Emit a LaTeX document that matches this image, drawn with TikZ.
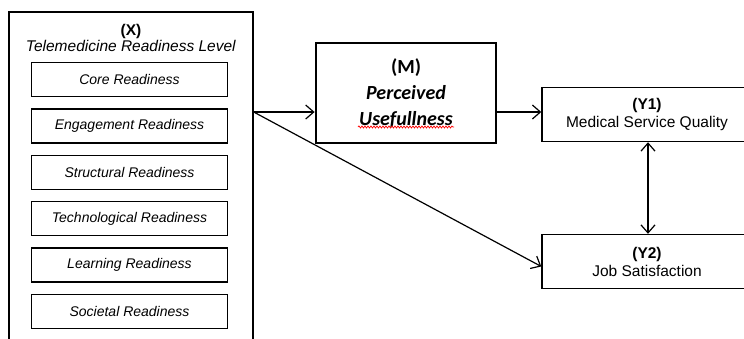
\documentclass[tikz,border=0pt]{standalone}
\usepackage{fontspec}
\setmainfont{Liberation Sans}
\newfontfamily\calib{Carlito}
\usetikzlibrary{arrows.meta,calc,decorations.pathmorphing}
\begin{document}
\begin{tikzpicture}[x=1pt,y=-1pt,
  outer/.style={draw,line width=1.4pt,rectangle,inner sep=0pt},
  subbox/.style={draw,line width=1.4pt,minimum width=196pt,minimum height=34pt,inner sep=0pt,font=\fontsize{14}{16}\selectfont\itshape},
  ybox/.style={draw,line width=1.4pt,minimum width=210pt,minimum height=54pt,inner sep=0pt,align=center,font=\fontsize{15.5}{18}\selectfont},
  mbox/.style={draw,line width=2.8pt,minimum width=180pt,minimum height=100pt,inner sep=0pt,align=center,font=\calib\fontsize{20}{26}\selectfont},
  arr/.style={line width=1.2pt,-{Straight Barb[length=8pt,width=14pt]}},
  darr/.style={line width=1.2pt,{Straight Barb[length=8pt,width=14pt]}-{Straight Barb[length=8pt,width=14pt]}},
  wavy/.style={red,line width=0.7pt,decorate,decoration={snake,amplitude=1pt,segment length=3pt}}]
\useasboundingbox (0,0) rectangle (744,338);
\clip (0,0) rectangle (744,338);
\fill[white] (0,0) rectangle (744,338);
% X block
\node[outer,minimum width=244pt,minimum height=336pt] (X) at (131,180) {};
\node[align=center,font=\fontsize{15.5}{16.5}\selectfont] (Xt) at (131,38) {\textbf{(X)}\\\textit{Telemedicine Readiness Level}};
\node[subbox] (s0) at (129.5,79.5) {Core Readiness};
\node[subbox] (s1) at (129.5,125.9) {Engagement Readiness};
\node[subbox] (s2) at (129.5,172.3) {Structural Readiness};
\node[subbox] (s3) at (129.5,218.7) {Technological Readiness};
\node[subbox] (s4) at (129.5,265.1) {Learning Readiness};
\node[subbox] (s5) at (129.5,311.5) {Societal Readiness};
% M block
\node[mbox] (M) at (406,93) {\textbf{(M)}\\\textbf{\textit{Perceived}}\\\textbf{\textit{Usefullness}}};
\draw[wavy] ($(M.center)+(-48,34)$) -- ($(M.center)+(48,34)$);
% Y blocks
\node[ybox] (Y1) at (647,114.5) {\textbf{(Y1)}\\Medical Service Quality};
\node[ybox] (Y2) at (647,261.5) {\textbf{(Y2)}\\Job Satisfaction};
% connectors
\coordinate (h) at (0,112);
\coordinate (v) at (648,0);
\draw[arr] (X.east |- h) -- (M.west |- h);
\draw[arr] (M.east |- h) -- (Y1.west |- h);
\draw[arr] (X.east |- h) -- ($(Y2.west)+(0,5)$);
\draw[darr] (Y1.south -| v) -- (Y2.north -| v);
\end{tikzpicture}
\end{document}
